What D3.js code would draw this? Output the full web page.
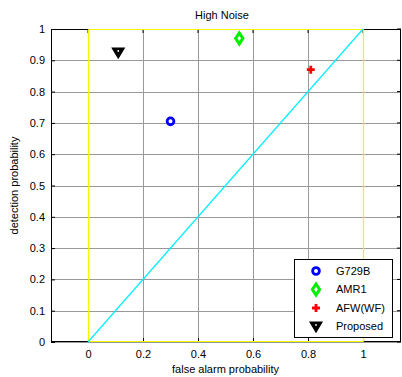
<!DOCTYPE html>
<html>
<head>
<meta charset="utf-8">
<script src="https://cdn.jsdelivr.net/npm/d3@7"></script>
<style>
  body { margin: 0; background: #fff; }
  text { font-family: "Liberation Sans", Arial, sans-serif; }
</style>
</head>
<body>
<div id="chart"></div>
<script>
// data
const methods = ['G729B', 'AMR1', 'AFW(WF)', 'Proposed'];
const falseAlarm = [0.30, 0.55, 0.81, 0.11];
const detection = [0.705, 0.97, 0.87, 0.925];
const xTicks = [0, 0.2, 0.4, 0.6, 0.8, 1];
const yTicks = [0, 0.1, 0.2, 0.3, 0.4, 0.5, 0.6, 0.7, 0.8, 0.9, 1];

const W = 402, H = 377;
const margin = {top: 29, right: 1, bottom: 35, left: 51};
const width = W - margin.left - margin.right;
const height = H - margin.top - margin.bottom;

const svg = d3.select('#chart').append('svg')
    .attr('width', W).attr('height', H);

const plot = svg.append('g')
    .attr('transform', `translate(${margin.left},${margin.top})`);

const x = d3.scaleLinear().domain([-0.1345, 1.138]).range([0, width]);
const y = d3.scaleLinear().domain([0, 1]).range([height, 0]);
const px = v => Math.round(v) + 0.5;

// grid
plot.append('g').selectAll('line').data(xTicks).enter().append('line')
    .attr('x1', d => px(x(d))).attr('x2', d => px(x(d)))
    .attr('y1', 0).attr('y2', height)
    .attr('stroke', '#999').attr('stroke-width', 1);

plot.append('g').selectAll('line').data(yTicks).enter().append('line')
    .attr('x1', 0).attr('x2', width)
    .attr('y1', d => px(y(d))).attr('y2', d => px(y(d)))
    .attr('stroke', '#999').attr('stroke-width', 1);

// axes
const xAxis = d3.axisBottom(x).tickValues(xTicks).tickSize(-4).tickPadding(8)
    .tickFormat(d => d3.format('~g')(d));
const yAxis = d3.axisLeft(y).tickValues(yTicks).tickSize(-4).tickPadding(6)
    .tickFormat(d => d3.format('~g')(d));

plot.append('g').attr('class', 'axis x')
    .attr('transform', `translate(0,${height})`)
    .call(xAxis)
    .call(g => g.select('.domain').remove())
    .selectAll('text').attr('font-size', 11).attr('fill', '#000');

plot.append('g').attr('class', 'axis y')
    .call(yAxis)
    .call(g => g.select('.domain').remove())
    .selectAll('text').attr('font-size', 11).attr('fill', '#000');

// mirrored ticks top/right
plot.append('g').selectAll('line').data(xTicks).enter().append('line')
    .attr('x1', d => x(d)).attr('x2', d => x(d)).attr('y1', 0).attr('y2', 4)
    .attr('stroke', '#000');
plot.append('g').selectAll('line').data(yTicks).enter().append('line')
    .attr('x1', width).attr('x2', width - 4).attr('y1', d => y(d)).attr('y2', d => y(d))
    .attr('stroke', '#000');

plot.append('rect')
    .attr('x', 0.5).attr('y', 0.5).attr('width', width - 1).attr('height', height - 1)
    .attr('fill', 'none').attr('stroke', '#000').attr('stroke-width', 1);

// yellow unit box (drawn over the frame like the original)
const x0 = px(x(0)), x1 = px(x(1)), yTop = 0.5, yBot = height - 0.5;
const yellow = plot.append('g').attr('stroke', '#f5f500').attr('stroke-width', 1.2);
yellow.append('line').attr('x1', x0).attr('x2', x0).attr('y1', yTop).attr('y2', yBot);
yellow.append('line').attr('x1', x1).attr('x2', x1).attr('y1', yTop).attr('y2', yBot);
yellow.append('line').attr('x1', x0).attr('x2', x1).attr('y1', yTop).attr('y2', yTop);
yellow.append('line').attr('x1', x0).attr('x2', x1).attr('y1', yBot).attr('y2', yBot);

// chance line
plot.append('line')
    .attr('x1', x(0)).attr('y1', y(0))
    .attr('x2', x(1)).attr('y2', y(1))
    .attr('stroke', '#00f0ff').attr('stroke-width', 1.2);

// markers
const colours = ['#0000ff', '#00ee00', '#ff0000', '#000000'];

function drawMarker(g, i) {
    if (i === 0) {
        g.append('circle').attr('r', 3.4).attr('fill', 'none')
            .attr('stroke', colours[i]).attr('stroke-width', 2.8);
    } else if (i === 1) {
        g.append('path').attr('d', 'M0,-5.5L3.6,0L0,5.5L-3.6,0Z')
            .attr('fill', 'none').attr('stroke', colours[i]).attr('stroke-width', 3);
    } else if (i === 2) {
        g.append('path').attr('d', 'M-4,0H4M0,-4V4')
            .attr('stroke', colours[i]).attr('stroke-width', 2.8);
    } else {
        g.append('path').attr('d', 'M-6,-4.5L6,-4.5L0,5.5Z')
            .attr('fill', colours[i]).attr('stroke', colours[i]).attr('stroke-width', 1.2);
        g.append('circle').attr('cy', -1.5).attr('r', 0.9).attr('fill', '#fff');
    }
}

methods.forEach((m, i) => {
    const g = plot.append('g')
        .attr('transform', `translate(${x(falseAlarm[i])},${y(detection[i])})`);
    drawMarker(g, i);
});

// legend
const legend = svg.append('g').attr('transform', 'translate(294,259)');
legend.append('rect').attr('x', 0.5).attr('y', 0.5).attr('width', 98).attr('height', 78)
    .attr('fill', '#fff').attr('stroke', '#000').attr('stroke-width', 1);
methods.forEach((m, i) => {
    const row = legend.append('g').attr('transform', `translate(22,${12 + i * 18.5})`);
    drawMarker(row, i);
    row.append('text').attr('x', 20).attr('dy', '0.35em')
        .attr('font-size', 11).text(m);
});

// labels
svg.append('text').attr('x', 222).attr('y', 19).attr('text-anchor', 'middle')
    .attr('font-size', 11).text('High Noise');
svg.append('text').attr('x', x(0.5) + margin.left).attr('y', 373).attr('text-anchor', 'middle')
    .attr('font-size', 11).text('false alarm probability');
svg.append('text').attr('transform', `translate(18,${margin.top + height / 2}) rotate(-90)`)
    .attr('text-anchor', 'middle').attr('font-size', 11).text('detection probability');
</script>
</body>
</html>
